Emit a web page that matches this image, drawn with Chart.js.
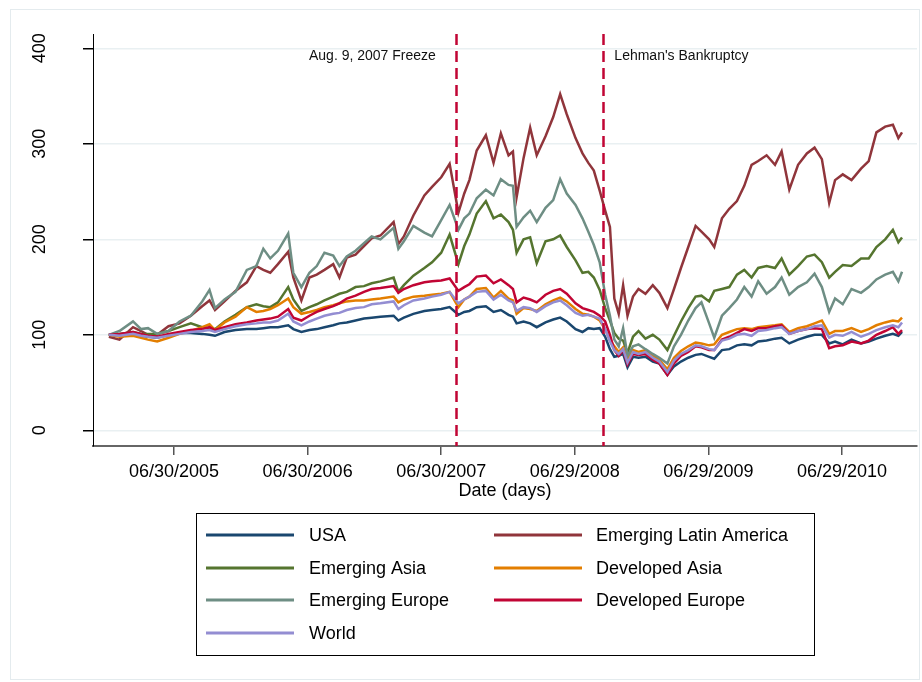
<!DOCTYPE html>
<html>
<head>
<meta charset="utf-8">
<script src="https://cdn.jsdelivr.net/npm/chart.js"></script>
<style>
  html, body { margin: 0; padding: 0; background: #fff; }
  canvas { display: block; }
</style>
</head>
<body>
<canvas id="stockChart" width="922" height="682"></canvas>
<script>
const dates = [
  "2005-01-03","2005-02-01","2005-03-10","2005-04-01","2005-04-20","2005-05-15","2005-06-15","2005-07-15","2005-08-15","2005-09-15",
  "2005-10-05","2005-10-20","2005-11-15","2005-12-15","2006-01-15","2006-02-10","2006-03-01","2006-03-20","2006-04-10","2006-05-08",
  "2006-05-22","2006-06-13","2006-07-05","2006-07-25","2006-08-15","2006-09-08","2006-09-25","2006-10-15","2006-11-08","2006-12-01",
  "2006-12-22","2007-01-15","2007-02-20","2007-03-05","2007-03-20","2007-04-15","2007-05-15","2007-06-05","2007-06-30","2007-07-23",
  "2007-08-16","2007-09-01","2007-09-15","2007-10-05","2007-10-30","2007-11-20","2007-12-10","2007-12-31","2008-01-12","2008-01-22",
  "2008-02-10","2008-02-28","2008-03-17","2008-04-10","2008-05-01","2008-05-20","2008-06-07","2008-07-01","2008-07-20","2008-08-05",
  "2008-08-20","2008-09-05","2008-09-20","2008-10-03","2008-10-15","2008-10-27","2008-11-08","2008-11-20","2008-12-05","2008-12-20",
  "2009-01-08","2009-01-28","2009-02-15","2009-03-09","2009-03-27","2009-04-15","2009-05-05","2009-05-25","2009-06-10","2009-07-01",
  "2009-07-15","2009-08-05","2009-08-25","2009-09-15","2009-10-05","2009-10-25","2009-11-12","2009-12-05","2009-12-28","2010-01-15",
  "2010-02-05","2010-03-01","2010-03-25","2010-04-15","2010-05-05","2010-05-25","2010-06-10","2010-07-01","2010-07-25","2010-08-20",
  "2010-09-10","2010-10-01","2010-10-25","2010-11-15","2010-11-30","2010-12-10"
];

const usa = [
  100,99,101,99,98,97,100,102,102,101,
  100,99,103,105,106,106,107,108,108,110,
  106,103,105,106,108,110,112,113,115,117,
  118,119,120,115,118,122,125,126,127,129,
  121,124,125,129,130,124,126,121,119,112,
  114,112,108,113,116,118,114,106,103,107,
  106,107,98,85,77,78,80,66,77,76,
  77,72,70,58,67,72,76,79,80,77,
  75,84,85,89,90,89,93,94,96,97,
  91,95,98,100,100,91,93,90,95,91,
  93,96,99,101,99,103
];
const emergingLatinAmerica = [
  98,95,108,104,100,100,109,112,120,130,
  136,126,135,146,155,172,168,165,174,187,
  160,136,160,163,168,174,160,181,184,193,
  201,204,218,195,203,225,246,255,265,279,
  228,248,262,293,309,280,311,288,292,244,
  285,317,288,308,328,352,331,306,290,280,
  272,251,230,213,138,122,152,120,140,148,
  143,152,144,128,148,170,192,214,208,200,
  192,222,232,240,256,278,282,288,278,292,
  252,278,290,296,284,238,262,268,262,274,
  282,312,318,320,306,312
];
const emergingAsia = [
  100,101,103,101,101,101,104,108,112,108,
  107,106,114,121,129,132,130,129,134,150,
  137,125,129,132,136,140,143,145,150,151,
  154,156,160,145,152,162,170,176,186,205,
  174,193,205,227,240,222,226,218,210,186,
  200,202,175,198,200,204,192,178,165,166,
  160,147,128,115,102,96,94,81,98,104,
  96,100,95,84,99,114,128,140,141,135,
  146,148,150,163,168,160,170,172,170,180,
  163,172,182,184,176,160,166,173,172,180,
  180,192,200,210,197,202
];
const developedAsia = [
  100,98,99,97,95,93,97,101,104,108,
  111,105,113,119,129,124,125,127,131,138,
  129,122,124,126,129,131,133,135,136,136,
  137,138,140,134,137,140,141,142,143,145,
  129,137,140,148,149,139,146,138,136,122,
  128,127,125,132,136,139,135,127,122,121,
  119,115,106,94,88,82,87,74,84,82,
  84,78,74,64,76,83,88,92,91,89,
  90,100,103,106,107,106,108,109,110,111,
  103,107,109,112,115,101,104,104,107,103,
  106,110,113,115,114,118
];
const emergingEurope = [
  100,104,114,106,107,101,104,114,120,135,
  147,128,137,145,168,172,190,180,188,206,
  165,150,165,172,186,183,172,182,188,196,
  203,200,212,190,198,214,207,203,220,236,
  210,222,227,243,252,246,263,257,256,213,
  223,230,218,233,241,263,248,236,222,208,
  194,176,142,120,95,88,107,78,88,90,
  85,80,76,70,88,100,115,128,134,112,
  97,120,128,137,150,140,156,143,150,160,
  142,150,155,164,150,124,138,132,148,144,
  150,158,163,166,156,166
];
const developedEurope = [
  100,101,103,101,99,98,101,103,105,106,
  108,105,108,111,113,115,116,117,119,127,
  118,115,120,124,127,130,133,138,141,145,
  148,149,151,144,148,152,155,156,157,159,
  146,150,153,161,162,154,158,152,148,134,
  139,137,134,142,146,148,143,133,128,126,
  124,120,114,100,84,78,84,69,80,79,
  80,74,70,58,70,78,82,88,87,84,
  84,95,98,102,106,104,107,107,109,110,
  101,104,106,107,106,86,88,89,93,91,
  94,100,104,108,101,105
];
const world = [
  100,99,101,99,98,97,99,101,103,104,
  105,103,106,109,111,112,113,113,115,122,
  114,110,114,117,120,122,123,126,128,129,
  132,133,135,127,131,136,138,140,142,145,
  133,137,140,145,146,137,142,136,134,125,
  129,128,124,130,134,136,131,123,120,121,
  119,117,106,93,84,80,85,71,82,80,
  82,76,72,61,73,80,84,89,88,85,
  84,94,96,100,101,99,104,105,107,108,
  101,104,106,109,110,97,100,99,103,98,
  101,105,108,110,108,113
];

const seriesNames = ["USA", "Emerging Latin America", "Emerging Asia", "Developed Asia",
  "Emerging Europe", "Developed Europe", "World"];
const seriesValues = [usa, emergingLatinAmerica, emergingAsia, developedAsia,
  emergingEurope, developedEurope, world];
const seriesColors = ["#1a476f", "#90353b", "#55752f", "#e37e00", "#6e8e84", "#c10534", "#938dd2"];

const xTickDates = ["2005-06-30", "2006-06-30", "2007-06-30", "2008-06-29", "2009-06-29", "2010-06-29"];
const xTickLabels = ["06/30/2005", "06/30/2006", "06/30/2007", "06/29/2008", "06/29/2009", "06/29/2010"];
const yTicks = [0, 100, 200, 300, 400];

const eventDates = ["2007-08-09", "2008-09-15"];
const eventLabels = ["Aug. 9, 2007 Freeze", "Lehman's Bankruptcy"];

const FONT = '"Liberation Sans", Arial, sans-serif';

// days since 1 Jan 2005
function dayNum(s) {
  const [y, m, d] = s.split("-").map(Number);
  return (Date.UTC(y, m - 1, d) - Date.UTC(2005, 0, 1)) / 86400000;
}

const extras = {
  id: "extras",
  beforeDraw(chart) {
    const ctx = chart.ctx;
    ctx.save();
    ctx.fillStyle = "#fff";
    ctx.fillRect(0, 0, chart.width, chart.height);
    ctx.strokeStyle = "#e4ebee";
    ctx.lineWidth = 1;
    ctx.strokeRect(10.5, 9.5, 909, 670);
    ctx.restore();
  },
  afterDatasetsDraw(chart) {
    const ctx = chart.ctx;
    const area = chart.chartArea;
    const xs = chart.scales.x;
    ctx.save();
    ctx.strokeStyle = "#c10534";
    ctx.lineWidth = 2.5;
    ctx.setLineDash([11, 6]);
    eventDates.forEach((d) => {
      const px = Math.round(xs.getPixelForValue(dayNum(d))) + 0.5;
      ctx.beginPath();
      ctx.moveTo(px, area.top);
      ctx.lineTo(px, area.bottom);
      ctx.stroke();
    });
    ctx.setLineDash([]);
    ctx.fillStyle = "#111";
    ctx.font = "14px " + FONT;
    ctx.textBaseline = "alphabetic";
    eventDates.forEach((d, i) => {
      const px = xs.getPixelForValue(dayNum(d));
      if (i === 0) {
        ctx.textAlign = "right";
        ctx.fillText(eventLabels[i], px - 20, 60);
      } else {
        ctx.textAlign = "left";
        ctx.fillText(eventLabels[i], px + 11, 60);
      }
    });
    ctx.restore();
  },
  afterDraw(chart) {
    const ctx = chart.ctx;
    const area = chart.chartArea;
    const ys = chart.scales.y;
    ctx.save();
    ctx.fillStyle = "#000";
    ctx.font = "18px " + FONT;

    // rotated y tick labels
    ctx.textAlign = "center";
    ctx.textBaseline = "alphabetic";
    yTicks.forEach((v) => {
      ctx.save();
      ctx.translate(45, ys.getPixelForValue(v));
      ctx.rotate(-Math.PI / 2);
      ctx.fillText(String(v), 0, 0);
      ctx.restore();
    });

    // x axis title
    ctx.fillText("Date (days)", (area.left + area.right) / 2, 496);

    // legend box, two columns
    ctx.strokeStyle = "#000";
    ctx.lineWidth = 1;
    ctx.strokeRect(196.5, 513.5, 618, 142);
    const colLine = [206, 494];
    const colText = [309, 596];
    const rowY = [535, 568, 600, 633];
    ctx.textAlign = "left";
    ctx.textBaseline = "middle";
    seriesNames.forEach((name, i) => {
      const c = i % 2;
      const r = Math.floor(i / 2);
      ctx.strokeStyle = seriesColors[i];
      ctx.lineWidth = 3;
      ctx.beginPath();
      ctx.moveTo(colLine[c], rowY[r]);
      ctx.lineTo(colLine[c] + 88, rowY[r]);
      ctx.stroke();
      ctx.fillStyle = "#000";
      ctx.fillText(name, colText[c], rowY[r] + 1);
    });
    ctx.restore();
  }
};

new Chart(document.getElementById("stockChart"), {
  type: "line",
  data: {
    datasets: seriesNames.map((name, i) => ({
      label: name,
      data: dates.map((d, j) => ({ x: dayNum(d), y: seriesValues[i][j] })),
      borderColor: seriesColors[i],
      borderWidth: 2.5,
      pointRadius: 0,
      tension: 0,
      fill: false,
      order: -i,
    })),
  },
  options: {
    responsive: false,
    animation: false,
    devicePixelRatio: 1,
    events: [],
    layout: {
      padding: { top: 34, right: 5, left: 0, bottom: 0 },
    },
    plugins: {
      legend: { display: false },
      tooltip: { enabled: false },
    },
    scales: {
      x: {
        type: "linear",
        min: -41.3,
        max: 2209.9,
        afterBuildTicks: (scale) => {
          scale.ticks = xTickDates.map((d) => ({ value: dayNum(d) }));
        },
        afterFit: (scale) => {
          scale.height = 236;
        },
        ticks: {
          autoSkip: false,
          maxRotation: 0,
          minRotation: 0,
          padding: 6,
          color: "#000",
          font: { family: FONT, size: 18 },
          callback: (value, index) => xTickLabels[index],
        },
        grid: {
          drawOnChartArea: false,
          drawTicks: true,
          tickLength: 9,
          tickColor: "#555",
          lineWidth: 1.5,
        },
        border: { display: true, color: "#666", width: 2 },
      },
      y: {
        type: "linear",
        min: -16.4,
        max: 415,
        afterBuildTicks: (scale) => {
          scale.ticks = yTicks.map((v) => ({ value: v }));
        },
        afterFit: (scale) => {
          scale.width = 93;
        },
        ticks: { display: false },
        grid: {
          color: "#e9f0f2",
          lineWidth: 1.5,
          drawTicks: true,
          tickLength: 10,
          tickColor: "#000",
        },
        border: { display: true, color: "#000", width: 1 },
      },
    },
  },
  plugins: [extras],
});
</script>
</body>
</html>
